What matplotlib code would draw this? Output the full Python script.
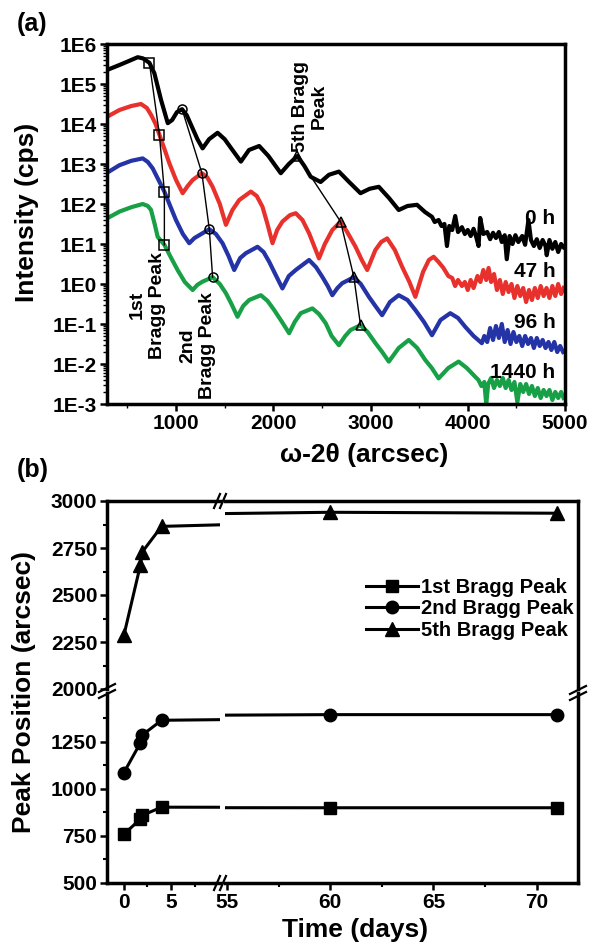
import numpy as np
import matplotlib
matplotlib.use('Agg')
import matplotlib.pyplot as plt
from matplotlib.ticker import LogLocator, NullFormatter, FixedLocator
from matplotlib.lines import Line2D

plt.rcParams['font.family'] = ['Liberation Sans', 'DejaVu Sans']
plt.rcParams['font.weight'] = 'bold'
plt.rcParams['axes.labelweight'] = 'bold'
plt.rcParams['font.size'] = 15

# ---------------- panel (a): omega-2theta scans (log10 of intensity) ----------------
x_0h = [290, 418, 520, 606, 660, 726, 777, 846, 915, 960, 1010, 1062, 1110, 1154, 1220, 1273, 1340, 1427,
        1500, 1580, 1667, 1750, 1855, 1950, 2077, 2160, 2248, 2320, 2385, 2487, 2572, 2675, 2780, 2897,
        2990, 3085, 3190, 3290, 3380, 3478, 3560, 3632, 3660, 3700, 3730, 3760, 3786, 3810, 3840, 3871,
        3900, 3940, 3970, 4000, 4030, 4060, 4090, 4111, 4128, 4160, 4200, 4230, 4260, 4290, 4320, 4350,
        4380, 4401, 4430, 4460, 4490, 4520, 4560, 4590, 4624, 4650, 4680, 4710, 4740, 4770, 4800, 4812,
        4840, 4870, 4900, 4930, 4960, 4985]
logI_0h = [5.35, 5.475, 5.58, 5.67, 5.64, 5.53, 5.27, 4.6, 4.02, 4.1, 4.3, 4.37, 4.22, 3.98, 3.62, 3.39, 3.62, 3.78,
           3.62, 3.35, 3.06, 3.35, 3.45, 3.2, 2.77, 3.0, 3.2, 2.95, 2.68, 2.55, 2.73, 2.81, 2.55, 2.27,
           2.38, 2.43, 2.15, 1.85, 1.95, 1.98, 1.8, 1.68, 1.55, 1.6, 1.45, 1.5, 0.95, 1.45, 1.35, 1.7,
           1.3, 1.42, 1.25, 1.35, 1.2, 1.38, 1.15, 0.95, 1.65, 1.25, 1.3, 1.12, 1.28, 1.15, 1.3, 1.05,
           1.22, 0.62, 1.2, 1.0, 1.22, 1.05, 1.2, 0.98, 1.6, 1.1, 0.95, 1.12, 0.9, 1.1, 0.95, 0.72,
           1.1, 0.88, 1.05, 0.8, 1.0, 0.92]

x_47h = [290, 418, 540, 640, 700, 743, 790, 829, 880, 931, 1000, 1068, 1120, 1171, 1266, 1320, 1376, 1450,
         1513, 1580, 1650, 1769, 1830, 1889, 1940, 1992, 2040, 2094, 2170, 2231, 2300, 2368, 2420, 2470,
         2530, 2607, 2692, 2760, 2846, 2910, 2966, 3050, 3110, 3171, 3250, 3325, 3400, 3461, 3540, 3600,
         3649, 3700, 3750, 3800, 3840, 3870, 3900, 3940, 3970, 4000, 4030, 4060, 4100, 4130, 4160, 4190,
         4214, 4240, 4270, 4300, 4330, 4360, 4390, 4420, 4450, 4480, 4510, 4540, 4570, 4600, 4630, 4660,
         4690, 4720, 4750, 4780, 4810, 4840, 4870, 4900, 4930, 4960, 4985]
logI_47h = [4.18, 4.35, 4.45, 4.5, 4.4, 4.23, 4.0, 3.73, 3.38, 3.02, 2.6, 2.27, 2.45, 2.6, 2.77, 2.67, 2.43, 2.0,
            1.48, 1.85, 2.1, 2.31, 2.2, 1.93, 1.5, 1.02, 1.35, 1.56, 1.72, 1.77, 1.6, 1.27, 0.95, 0.64,
            1.0, 1.35, 1.56, 1.3, 0.93, 0.6, 0.35, 0.85, 1.05, 1.14, 0.85, 0.43, 0.05, -0.32, 0.3, 0.6,
            0.68, 0.55, 0.4, 0.2, 0.15, -0.05, 0.1, -0.05, 0.05, -0.15, 0.1, -0.1, 0.2, 0.05, 0.35, 0.1,
            0.4, 0.05, 0.25, -0.15, 0.1, -0.25, 0.05, -0.2, 0.0, -0.35, -0.05, -0.3, -0.1, -0.45, -0.15, -0.4,
            -0.1, -0.35, -0.05, -0.3, -0.1, -0.35, -0.05, -0.3, 0.0, -0.25, -0.1]

x_96h = [290, 418, 540, 657, 710, 760, 820, 880, 940, 999, 1070, 1136, 1190, 1239, 1342, 1410, 1478, 1540,
         1598, 1660, 1718, 1838, 1900, 1957, 2030, 2094, 2160, 2231, 2368, 2440, 2504, 2560, 2607, 2660,
         2709, 2829, 2900, 2983, 3050, 3119, 3200, 3290, 3380, 3461, 3550, 3632, 3720, 3820, 3900, 3974,
         4060, 4145, 4170, 4200, 4230, 4260, 4290, 4320, 4350, 4380, 4410, 4440, 4470, 4500, 4530, 4560,
         4590, 4620, 4650, 4680, 4710, 4740, 4770, 4800, 4830, 4860, 4890, 4920, 4950, 4980]
logI_96h = [2.78, 2.97, 3.08, 3.14, 3.05, 2.89, 2.6, 2.31, 1.95, 1.6, 1.25, 1.02, 1.15, 1.22, 1.37, 1.25, 1.02, 0.7,
            0.35, 0.65, 0.77, 0.93, 0.8, 0.56, 0.2, -0.11, 0.2, 0.35, 0.6, 0.42, 0.18, -0.05, -0.28, -0.1,
            0.02, 0.17, 0.0, -0.32, -0.55, -0.78, -0.45, -0.28, -0.4, -0.65, -0.95, -1.28, -0.9, -0.73, -0.85, -1.07,
            -1.3, -1.48, -1.3, -1.45, -1.1, -1.4, -1.05, -1.35, -1.0, -1.45, -1.15, -1.5, -1.2, -1.45, -1.3, -1.55,
            -1.3, -1.5, -1.35, -1.6, -1.35, -1.55, -1.4, -1.6, -1.45, -1.65, -1.45, -1.7, -1.55, -1.7]

x_1440h = [290, 418, 540, 657, 710, 743, 780, 811, 880, 950, 1016, 1090, 1171, 1220, 1273, 1376, 1450, 1513,
           1570, 1632, 1690, 1752, 1872, 1940, 2009, 2090, 2163, 2220, 2282, 2402, 2470, 2539, 2600, 2675,
           2740, 2795, 2897, 2970, 3051, 3120, 3188, 3290, 3393, 3480, 3563, 3630, 3700, 3800, 3906, 3990,
           4077, 4110, 4140, 4170, 4190, 4210, 4240, 4270, 4300, 4330, 4360, 4390, 4420, 4450, 4480, 4510,
           4540, 4570, 4600, 4630, 4660, 4690, 4720, 4750, 4780, 4810, 4840, 4870, 4900, 4930, 4960, 4985]
logI_1440h = [1.64, 1.81, 1.92, 2.0, 1.95, 1.85, 1.5, 1.18, 0.98, 0.65, 0.35, 0.05, -0.15, -0.02, 0.06, 0.17, 0.0, -0.23,
              -0.5, -0.82, -0.55, -0.4, -0.28, -0.42, -0.65, -0.95, -1.23, -0.95, -0.73, -0.61, -0.75, -0.98, -1.3, -1.53,
              -1.3, -1.15, -1.03, -1.2, -1.48, -1.7, -1.94, -1.6, -1.4, -1.6, -1.9, -2.1, -2.36, -2.1, -1.94, -2.1,
              -2.32, -2.4, -2.55, -2.45, -3.0, -2.5, -2.35, -2.6, -2.4, -2.55, -2.35, -2.6, -2.4, -2.65, -2.45, -2.95,
              -2.5, -2.7, -2.5, -2.75, -2.55, -2.8, -2.6, -2.85, -2.65, -2.8, -2.65, -2.9, -2.7, -2.85, -2.7, -2.85]

curve_labels = ['0 h', '47 h', '96 h', '1440 h']
curve_colors = ['black', '#e8312c', '#2433a6', '#17a046']

# Bragg peak positions marked on each scan (0 h, 47 h, 96 h, 1440 h)
peak1_x = [726, 829, 880, 880]
peak1_logI = [5.53, 3.73, 2.31, 0.98]
peak2_x = [1062, 1266, 1342, 1376]
peak2_logI = [4.37, 2.77, 1.37, 0.17]
peak5_x = [2248, 2692, 2829, 2897]
peak5_logI = [3.2, 1.56, 0.17, -1.03]

ytick_a = [-3, -2, -1, 0, 1, 2, 3, 4, 5, 6]
ytick_a_labels = ['1E-3', '1E-2', '1E-1', '1E0', '1E1', '1E2', '1E3', '1E4', '1E5', '1E6']
xtick_a = [1000, 2000, 3000, 4000, 5000]

# ---------------- panel (b): peak position vs time ----------------
days = [0, 1.75, 1.96, 4, 60, 71]
bragg1 = [760, 840, 860, 903, 900, 900]
bragg2 = [1087, 1245, 1287, 1365, 1395, 1395]
bragg5 = [2287, 2660, 2730, 2865, 2940, 2935]
legend_labels = ['1st Bragg Peak', '2nd Bragg Peak', '5th Bragg Peak']


W, H = 590, 948
def fx(px):
    return px / W
def fy(py):
    return 1 - py / H

fig = plt.figure(figsize=(W / 100, H / 100), dpi=100)

# ---- (a) ----
ax = fig.add_axes([fx(107), fy(404), (565 - 107) / W, (404 - 44) / H])
scans = [(x_0h, logI_0h), (x_47h, logI_47h), (x_96h, logI_96h), (x_1440h, logI_1440h)]
for (xs, ls), c in zip(scans, curve_colors):
    ax.plot(xs, 10.0 ** np.array(ls), color=c, lw=3.0, solid_joinstyle='round')

for px_, pl_, m in [(peak1_x, peak1_logI, 's'), (peak2_x, peak2_logI, 'o'), (peak5_x, peak5_logI, '^')]:
    ax.plot(px_, 10.0 ** np.array(pl_), color='black', lw=1.0, marker=m, ms=6.5,
            mfc='none', mec='black', mew=1.1, zorder=5)

ax.set_yscale('log')
ax.set_ylim(1e-3, 1e6)
ax.set_xlim(290, 5000)
ax.set_yticks([10.0 ** k for k in ytick_a])
ax.set_yticklabels(ytick_a_labels)
ax.yaxis.set_minor_locator(LogLocator(base=10, subs=np.arange(2, 10), numticks=20))
ax.yaxis.set_minor_formatter(NullFormatter())
ax.set_xticks(xtick_a)
ax.xaxis.set_minor_locator(FixedLocator([500, 1500, 2500, 3500, 4500]))
ax.tick_params(which='major', direction='out', length=5, width=1.8, pad=2)
ax.tick_params(which='minor', direction='out', length=3, width=1.0)
for s in ax.spines.values():
    s.set_linewidth(2.5)

for lab, (xt, lt) in zip(curve_labels, [(4900, 1.65), (4900, 0.32), (4900, -0.95), (4900, -2.2)]):
    ax.text(xt, 10.0 ** lt, lab, ha='right', va='center', fontsize=15, zorder=6)

ax.text(706, 10.0 ** -0.53, '1st\nBragg Peak', rotation=90, ha='center', va='center',
        fontsize=14, multialignment='center')
ax.text(1218, 10.0 ** -1.53, '2nd\nBragg Peak', rotation=90, ha='center', va='center',
        fontsize=14, multialignment='center')
ax.text(2377, 10.0 ** 4.45, '5th Bragg\nPeak', rotation=90, ha='center', va='center',
        fontsize=14, multialignment='center')

fig.text(fx(27), fy(212), 'Intensity (cps)', rotation=90, ha='center', va='center', fontsize=19)
fig.text(fx(364), fy(455), 'ω-2θ (arcsec)', ha='center', va='center', fontsize=19)
fig.text(fx(32), fy(24), '(a)', ha='center', va='center', fontsize=18)

# ---- (b) broken axes ----
xl, xr, xm1, xm2 = 107, 578, 220, 225
yt, yb, ym1, ym2 = 501, 883, 689, 693
ax_tl = fig.add_axes([fx(xl), fy(ym1), (xm1 - xl) / W, (ym1 - yt) / H])
ax_tr = fig.add_axes([fx(xm2), fy(ym1), (xr - xm2) / W, (ym1 - yt) / H])
ax_bl = fig.add_axes([fx(xl), fy(yb), (xm1 - xl) / W, (yb - ym2) / H])
ax_br = fig.add_axes([fx(xm2), fy(yb), (xr - xm2) / W, (yb - ym2) / H])
axes_b = [ax_tl, ax_tr, ax_bl, ax_br]

handles = []
for a in axes_b:
    h1, = a.plot(days, bragg1, 'k-', marker='s', ms=8, lw=2.2)
    h2, = a.plot(days, bragg2, 'k-', marker='o', ms=9, lw=2.2)
    h3, = a.plot(days, bragg5, 'k-', marker='^', ms=10, lw=2.2)
    if a is ax_tr:
        handles = [h1, h2, h3]
    for s in a.spines.values():
        s.set_linewidth(2.5)
    a.tick_params(which='major', direction='out', length=5, width=1.8, pad=2)
    a.tick_params(which='minor', direction='out', length=3, width=1.5)

for a in [ax_tl, ax_bl]:
    a.set_xlim(-1.8, 10.2)
    a.spines['right'].set_visible(False)
for a in [ax_tr, ax_br]:
    a.set_xlim(54.9, 72)
    a.spines['left'].set_visible(False)
    a.tick_params(which='both', left=False, labelleft=False)
for a in [ax_tl, ax_tr]:
    a.set_ylim(2000, 3000)
    a.spines['bottom'].set_visible(False)
    a.tick_params(which='both', bottom=False, labelbottom=False)
for a in [ax_bl, ax_br]:
    a.set_ylim(500, 1510)
    a.spines['top'].set_visible(False)

ax_tl.set_yticks([2000, 2250, 2500, 2750, 3000])
ax_tl.yaxis.set_minor_locator(FixedLocator([2125, 2375, 2625, 2875]))
ax_bl.set_yticks([500, 750, 1000, 1250])
ax_bl.yaxis.set_minor_locator(FixedLocator([625, 875, 1125, 1375]))
ax_bl.set_xticks([0, 5])
ax_bl.xaxis.set_minor_locator(FixedLocator([2.5, 7.5]))
ax_br.set_xticks([55, 60, 65, 70])
ax_br.xaxis.set_minor_locator(FixedLocator([57.5, 62.5, 67.5]))

ax_tr.legend(handles, legend_labels, loc='upper left', bbox_to_anchor=(fx(366), fy(578)),
             bbox_transform=fig.transFigure, frameon=False, handlelength=2.6, handletextpad=0.15,
             labelspacing=0.12, borderpad=0, borderaxespad=0, fontsize=14.5)

# break marks
def slash(cx, cy, dx, dy):
    fig.add_artist(Line2D([fx(cx - dx), fx(cx + dx)], [fy(cy + dy), fy(cy - dy)],
                          color='black', lw=1.6))

for cx in (217, 223):
    slash(cx, yt, 3, 7)
    slash(cx, yb, 3, 7)
for cy in (688, 694):
    slash(xl, cy, 8, 4)
    slash(xr, cy + 2, 8, 4)

fig.text(fx(24), fy(692), 'Peak Position (arcsec)', rotation=90, ha='center', va='center', fontsize=19)
fig.text(fx(355), fy(930), 'Time (days)', ha='center', va='center', fontsize=19)
fig.text(fx(33), fy(470), '(b)', ha='center', va='center', fontsize=18)

fig.savefig('out.png', dpi=100)
